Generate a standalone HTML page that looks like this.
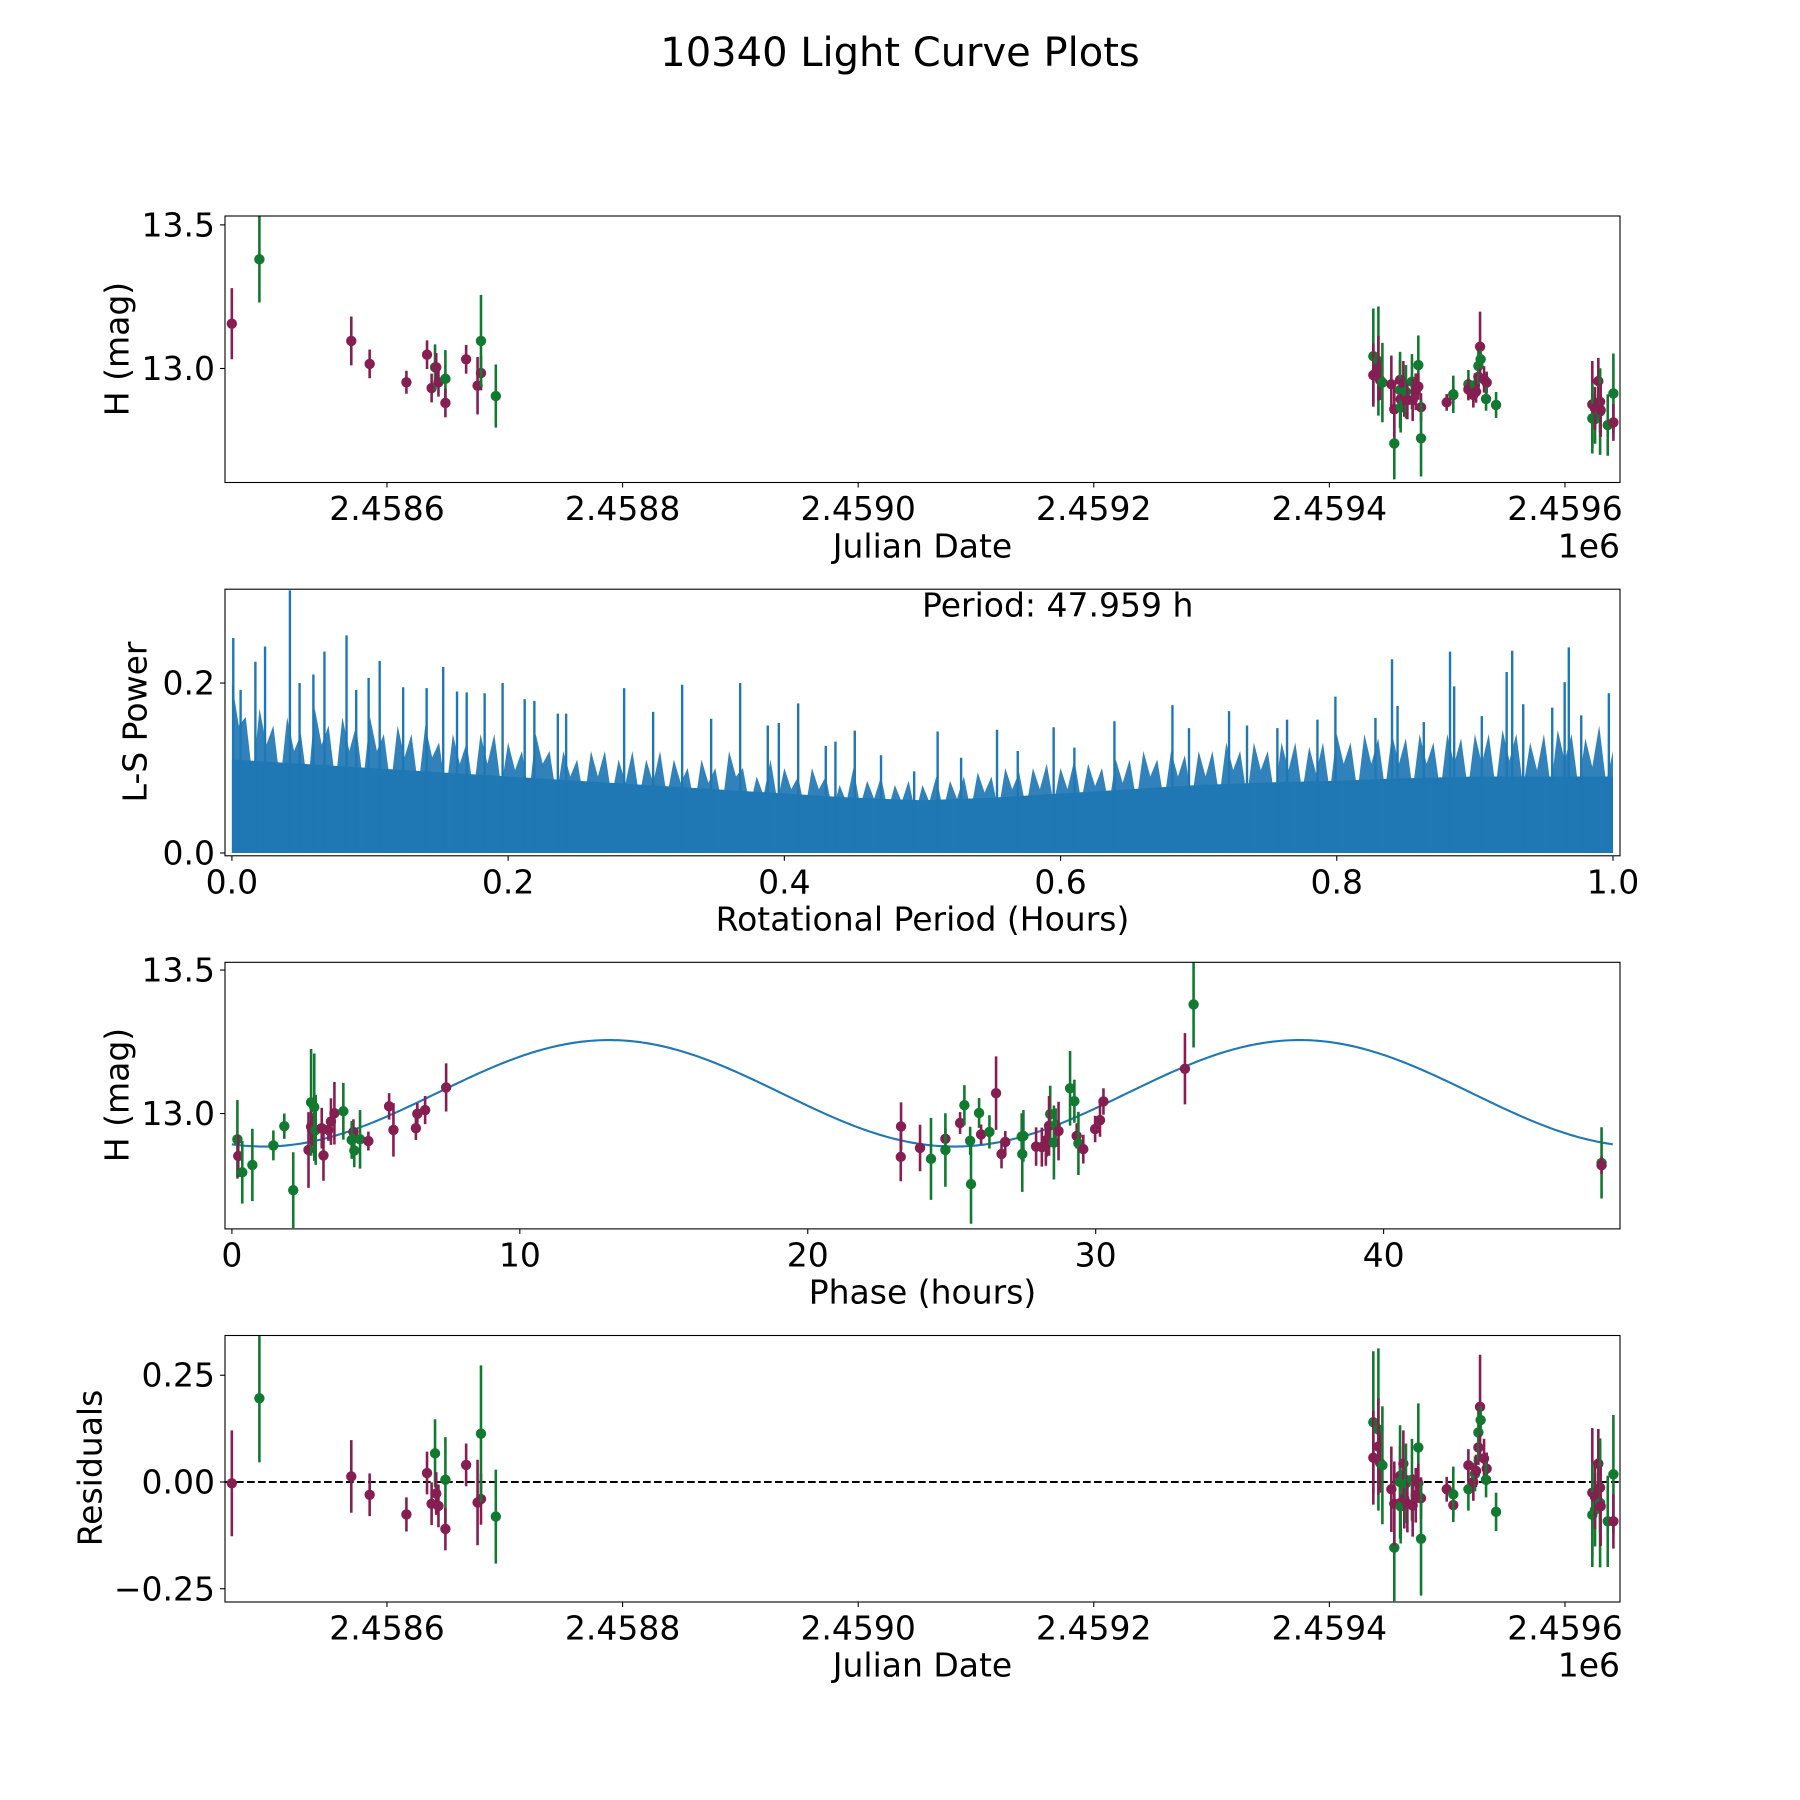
<!DOCTYPE html>
<html><head><meta charset="utf-8"><title>10340 Light Curve Plots</title>
<style>
html,body{margin:0;padding:0;background:#fff;}
svg{display:block;font-family:"DejaVu Sans","Liberation Sans",sans-serif;}
</style></head>
<body>
<svg id="fig" width="1800" height="1800" viewBox="0 0 1800 1800" xmlns="http://www.w3.org/2000/svg">
<rect x="0" y="0" width="1800" height="1800" fill="#fff"/>
<text x="900" y="53" font-size="40" text-anchor="middle" dominant-baseline="central">10340 Light Curve Plots</text>
</svg>
<script>
// ---------- data ----------
const obsJD = [2458468.3,2458491.7,2458569.7,2458585.3,2458616.5,2458634.0,2458637.9,2458640.8,2458641.8,2458643.7,2458649.6,2458649.6,2458667.2,2458676.9,2458679.8,2458679.8,2458692.4,
2459437.3,2459437.3,2459441.6,2459441.6,2459443.0,2459445.0,2459452.6,2459455.1,2459455.1,2459460.0,2459460.0,2459460.5,2459460.5,2459462.8,2459463.6,2459465.0,2459466.2,2459470.1,2459470.7,2459473.3,2459475.5,2459475.5,2459477.8,2459477.8,2459499.6,2459505.2,2459505.2,2459518.0,2459518.0,2459522.2,2459523.6,2459524.5,2459526.5,2459526.5,2459527.9,2459528.4,2459531.3,2459533.5,2459533.0,2459541.5,2459623.2,2459623.2,2459625.5,2459625.5,2459628.3,2459629.8,2459629.8,2459630.3,2459636.3,2459641.1,2459641.1];
const obsMag = [13.156,13.38,13.096,13.016,12.952,13.048,12.932,13.004,13.004,12.952,12.964,12.88,13.032,12.94,12.984,13.096,12.904,
13.043,12.977,13.026,13.001,12.960,12.951,12.945,12.739,12.858,12.960,12.925,12.893,12.864,12.948,12.902,12.919,12.890,12.954,12.890,12.919,13.012,12.937,12.865,12.757,12.882,12.908,12.910,12.945,12.927,12.908,12.942,12.919,12.971,13.009,13.076,13.032,12.962,12.951,12.894,12.873,12.875,12.826,12.824,12.861,12.956,12.884,12.850,12.855,12.803,12.913,12.812];
const obsErr = [.124,.15,.085,.05,.04,.05,.05,.08,.05,.05,.1,.05,.05,.1,.06,.16,.11,
.166,.110,.19,.113,.07,.138,.10,.125,.099,.07,.133,.073,.087,.078,.07,.093,.067,.096,.073,.064,.103,.046,.049,.133,.029,.029,.065,.05,.038,.044,.041,.038,.041,.064,.122,.032,.046,.038,.041,.045,.151,.122,.086,.075,.081,.107,.151,.093,.107,.139,.064];
const obsBand = "PGPPPPPGPPGPPPPGG"+"GPGPPGPGPPGPGPPGPGPPGPPGPPGGPPGPPGPGPPGGPGGPPPGPGGP";
const obsResid = [-0.003,0.196,0.013,-0.030,-0.076,0.021,-0.051,0.067,-0.027,-0.056,0.005,-0.11,0.040,-0.048,-0.04,0.113,-0.081,
0.140,0.057,0.123,0.083,0.045,0.039,-0.017,-0.154,-0.051,0.014,0.0,-0.049,-0.057,0.043,-0.039,-0.003,-0.051,0.005,-0.055,-0.031,0.081,-0.003,-0.038,-0.133,-0.017,-0.054,-0.029,-0.017,0.039,0,0.019,0.026,0.081,0.116,0.176,0.145,0.055,0.031,0.005,-0.07,-0.025,-0.077,-0.065,-0.035,0.043,-0.013,-0.049,-0.057,-0.092,0.018,-0.092];

const phaseHours = [0.19,0.22,0.36,0.71,1.44,1.82,2.13,2.66,2.75,2.75,2.79,2.86,2.91,3.12,3.18,3.35,3.44,3.56,3.87,4.22,4.16,4.25,4.45,4.74,5.46,5.61,6.39,6.44,6.71,7.44,
23.24,23.23,23.9,24.28,24.78,24.78,25.29,25.44,25.64,25.67,25.95,26.02,26.31,26.54,26.73,26.86,27.43,27.45,27.49,27.93,28.13,28.27,28.3,28.42,28.38,28.55,28.61,28.71,29.11,29.26,29.34,29.4,29.57,29.98,30.15,30.27,
33.1,33.4,47.57,47.57];
const phaseMag = [12.910,12.852,12.795,12.821,12.889,12.956,12.733,12.873,13.039,12.954,12.943,13.022,12.943,12.949,12.854,12.943,12.972,13.001,13.008,12.936,12.908,12.871,12.910,12.904,13.025,12.943,12.949,12.999,13.012,13.091,
12.955,12.849,12.880,12.842,12.912,12.873,12.967,13.029,12.905,12.754,13.002,12.927,12.936,13.071,12.859,12.901,12.920,12.859,12.922,12.885,12.883,12.891,12.908,12.998,12.957,12.899,12.960,12.939,13.088,13.043,12.922,12.896,12.876,12.946,12.977,13.042,
13.156,13.38,12.828,12.82];
const phaseErr = [.137,.074,.109,.126,.052,.044,.132,.132,.186,.058,.058,.187,.122,.071,.088,.038,.081,.109,.099,.044,.066,.058,.102,.033,.046,.093,.041,.037,.049,.084,
.084,.085,.081,.143,.038,.128,.038,.07,.049,.138,.052,.035,.058,.128,.05,.038,.081,.132,.09,.067,.068,.073,.058,.099,.104,.129,.058,.102,.13,.075,.044,.11,.05,.046,.058,.046,
.124,.15,.124,.03];
const phaseBand = "GPGGGGGPGPPGGPPPPPGPGGGPPPPPPP"+"PPPGPGPGGGGPGPPPGGGPPPPGPGGPGGPGPPPP"+"PGGP";

const modelMean = 13.0705;
const modelAmp = 0.1855;
const modelCycleHours = 23.98;
const modelPeakPhase = 13.1;
const foldPeriodHours = 47.959;

const lsGridPeriod = [0,0.05,0.1,0.15,0.2,0.25,0.3,0.35,0.4,0.45,0.5,0.55,0.6,0.65,0.7,0.75,0.8,0.85,0.9,0.95,1.0];
const lsFloorPower = [.11,.105,.1,.095,.09,.085,.08,.075,.07,.065,.062,.065,.07,.075,.08,.083,.085,.088,.09,.09,.09];
const lsEnvelopePower = [.2,.16,.17,.15,.16,.14,.17,.15,.16,.15,.16,.14,.15,.14,.15,.13,.14,.13,.14,.14,
.13,.12,.14,.12,.12,.11,.12,.12,.11,.12,.11,.12,.11,.1,.11,.1,.12,.1,.09,.11,
.1,.09,.1,.09,.08,.1,.085,.09,.08,.085,.08,.09,.085,.09,.095,.09,.1,.095,.1,.105,
.1,.11,.105,.1,.11,.11,.12,.11,.12,.115,.12,.12,.13,.12,.13,.12,.13,.13,.125,.13,
.14,.13,.14,.135,.14,.135,.14,.13,.14,.135,.14,.14,.145,.14,.13,.14,.145,.14,.135,.15,.12];
const lsPeakPeriod = [0.001,.0063,.017,.024,.042,.049,.059,.067,.083,.09,.099,.107,.124,.141,.153,.163,.17,.183,.196,.212,.219,.236,.242,.284,.305,.326,.347,.368,.388,.396,.41,.43,.437,.451,.47,.494,
.511,.528,.554,.569,.595,.61,.639,.681,.693,.722,.735,.757,.764,.786,.799,.828,.84,.844,.863,.882,.885,.905,.923,.927,.935,.956,.965,.968,.977,.997];
const lsPeakPower = [.253,.192,.225,.243,.309,.2,.21,.237,.256,.192,.206,.226,.195,.194,.219,.19,.189,.188,.2,.181,.179,.164,.164,.194,.166,.198,.158,.2,.15,.153,.176,.126,.131,.144,.115,.096,
.143,.112,.145,.12,.148,.124,.155,.174,.147,.167,.15,.147,.157,.157,.184,.159,.228,.173,.154,.237,.196,.161,.213,.238,.175,.171,.201,.242,.162,.188];

const jdTicks = [2458600,2458800,2459000,2459200,2459400,2459600];
const jdTickLabels = ["2.4586","2.4588","2.4590","2.4592","2.4594","2.4596"];
const magTicks = [13.0,13.5];
const magTickLabels = ["13.0","13.5"];
const lsXTicks = [0,0.2,0.4,0.6,0.8,1.0];
const lsXTickLabels = ["0.0","0.2","0.4","0.6","0.8","1.0"];
const lsYTicks = [0,0.2];
const lsYTickLabels = ["0.0","0.2"];
const phaseTicks = [0,10,20,30,40];
const phaseTickLabels = ["0","10","20","30","40"];
const residTicks = [0.25,0,-0.25];
const residTickLabels = ["0.25","0.00","\u22120.25"];

// ---------- helpers ----------
const NS = "http://www.w3.org/2000/svg";
const svg = document.getElementById("fig");
const PURPLE = "#861e52", GREEN = "#127a30", BLUE = "#1f77b4";
function el(tag, parent) { const e = document.createElementNS(NS, tag); parent.appendChild(e); return e; }
function scale(d0, d1, r0, r1) { return v => r0 + (v - d0) / (d1 - d0) * (r1 - r0); }

const L = 225, R = 1620;
function makePanel(name, top, bottom, xd, yd) {
  const g = el("g", svg);
  
  
  const cp = el("clipPath", g);
  cp.setAttribute("id", name + "-clip");
  const cr = el("rect", cp);
  cr.setAttribute("x", L); cr.setAttribute("y", top); cr.setAttribute("width", R - L); cr.setAttribute("height", bottom - top);
  const plot = el("g", g);
  plot.setAttribute("clip-path", "url(#" + name + "-clip)");
  
  
  return { g, plot, top, bottom, x: scale(xd[0], xd[1], L, R), y: scale(yd[0], yd[1], bottom, top) };
}
function frame(p, name) {
  const r = el("rect", p.g);
  r.setAttribute("x", L); r.setAttribute("y", p.top); r.setAttribute("width", R - L); r.setAttribute("height", p.bottom - p.top);
  r.setAttribute("fill", "none"); r.setAttribute("stroke", "#000"); r.setAttribute("stroke-width", "1.1");
  
  
}
function text(parent, x, y, s, size, anchor, rot) {
  const t = el("text", parent);
  t.setAttribute("x", x); t.setAttribute("y", y);
  t.setAttribute("font-size", size); t.setAttribute("text-anchor", anchor);
  t.setAttribute("dominant-baseline", "central");
  if (rot) t.setAttribute("transform", "rotate(-90 " + x + " " + y + ")");
  t.textContent = s;
  return t;
}
function xTicks(p, vals, labels, name) {
  vals.forEach((v, i) => {
    const X = p.x(v);
    const ln = el("line", p.g);
    ln.setAttribute("x1", X); ln.setAttribute("x2", X); ln.setAttribute("y1", p.bottom); ln.setAttribute("y2", p.bottom + 5);
    ln.setAttribute("stroke", "#000"); ln.setAttribute("stroke-width", "1.1");
    
    
    const t = text(p.g, X, p.bottom + 26, labels[i], 33, "middle");
    
    
  });
}
function yTicks(p, vals, labels, name) {
  vals.forEach((v, i) => {
    const Y = p.y(v);
    const ln = el("line", p.g);
    ln.setAttribute("x1", L - 5); ln.setAttribute("x2", L); ln.setAttribute("y1", Y); ln.setAttribute("y2", Y);
    ln.setAttribute("stroke", "#000"); ln.setAttribute("stroke-width", "1.1");
    
    
    const t = text(p.g, L - 10, Y, labels[i], 33, "end");
    
    
  });
}
function errPoints(p, xs, ys, es, bands, name) {
  xs.forEach((xv, i) => {
    const c = bands[i] === "G" ? GREEN : PURPLE;
    const X = p.x(xv);
    const ln = el("line", p.plot);
    ln.setAttribute("x1", X); ln.setAttribute("x2", X);
    ln.setAttribute("y1", p.y(ys[i] - es[i])); ln.setAttribute("y2", p.y(ys[i] + es[i]));
    ln.setAttribute("stroke", c); ln.setAttribute("stroke-width", "2.6");
    
    
    const ci = el("circle", p.plot);
    ci.setAttribute("cx", X); ci.setAttribute("cy", p.y(ys[i])); ci.setAttribute("r", "5.2"); ci.setAttribute("fill", c);
    
    
  });
}

// ---------- panel 1: light curve ----------
const jdDomain = [2458462.5, 2459646.7];
const p1 = makePanel("light-curve-panel", 216, 482.5, jdDomain, [12.603, 13.531]);
errPoints(p1, obsJD, obsMag, obsErr, obsBand, "light-curve");
frame(p1, "light-curve");
xTicks(p1, jdTicks, jdTickLabels, "light-curve");
yTicks(p1, magTicks, magTickLabels, "light-curve");
let t;
t = text(p1.g, 922.5, 546, "Julian Date", 33, "middle");


t = text(p1.g, 1620, 546, "1e6", 33, "end");


t = text(p1.g, 117, 349, "H (mag)", 33, "middle", true);



// ---------- panel 2: periodogram ----------
const p2 = makePanel("periodogram-panel", 589.2, 855.8, [-0.005, 1.00507], [-0.0033, 0.3104]);
(function () {
  const n = lsEnvelopePower.length;
  let d = "M" + p2.x(0) + " " + p2.y(0);
  lsEnvelopePower.forEach((v, i) => {
    const pr = i / (n - 1);
    const lo = i % 2 ? 0.55 : 0.75;
    d += " L" + p2.x(pr).toFixed(2) + " " + p2.y(v).toFixed(2);
    d += " L" + p2.x(pr + 0.005 > 1 ? 1 : pr + 0.005).toFixed(2) + " " + p2.y(v * lo).toFixed(2);
  });
  d += " L" + p2.x(1) + " " + p2.y(0) + " Z";
  const env = el("path", p2.plot);
  env.setAttribute("d", d); env.setAttribute("fill", BLUE); env.setAttribute("fill-opacity", "0.92");
  
  
  let f = "M" + p2.x(lsGridPeriod[0]) + " " + p2.y(0);
  lsGridPeriod.forEach((v, i) => { f += " L" + p2.x(v) + " " + p2.y(lsFloorPower[i]); });
  f += " L" + p2.x(lsGridPeriod[lsGridPeriod.length - 1]) + " " + p2.y(0) + " Z";
  const fl = el("path", p2.plot);
  fl.setAttribute("d", f); fl.setAttribute("fill", BLUE);
  
  
  lsPeakPeriod.forEach((v, i) => {
    const ln = el("line", p2.plot);
    ln.setAttribute("x1", p2.x(v)); ln.setAttribute("x2", p2.x(v));
    ln.setAttribute("y1", p2.y(0)); ln.setAttribute("y2", p2.y(lsPeakPower[i]));
    ln.setAttribute("stroke", BLUE); ln.setAttribute("stroke-width", "2.4");
    
    
  });
})();
frame(p2, "periodogram");
xTicks(p2, lsXTicks, lsXTickLabels, "periodogram");
yTicks(p2, lsYTicks, lsYTickLabels, "periodogram");
t = text(p2.g, 922.5, 919, "Rotational Period (Hours)", 33, "middle");


t = text(p2.g, 135, 722, "L-S Power", 33, "middle", true);


t = text(p2.g, 922, 605, "Period: " + foldPeriodHours.toFixed(3) + " h", 33, "start");



// ---------- panel 3: phase-folded ----------
const p3 = makePanel("phase-panel", 962.3, 1228.9, [-0.24, 48.21], [12.598, 13.527]);
(function () {
  let d = "";
  for (let k = 0; k <= 480; k++) {
    const ph = foldPeriodHours * k / 480;
    const m = modelMean + modelAmp * Math.cos(2 * Math.PI * (ph - modelPeakPhase) / modelCycleHours);
    d += (k ? " L" : "M") + p3.x(ph).toFixed(2) + " " + p3.y(m).toFixed(2);
  }
  const c = el("path", p3.plot);
  c.setAttribute("d", d); c.setAttribute("fill", "none"); c.setAttribute("stroke", BLUE); c.setAttribute("stroke-width", "2.1");
  
  
})();
errPoints(p3, phaseHours, phaseMag, phaseErr, phaseBand, "phase");
frame(p3, "phase");
xTicks(p3, phaseTicks, phaseTickLabels, "phase");
yTicks(p3, magTicks, magTickLabels, "phase");
t = text(p3.g, 922.5, 1292, "Phase (hours)", 33, "middle");


t = text(p3.g, 117, 1095, "H (mag)", 33, "middle", true);



// ---------- panel 4: residuals ----------
const p4 = makePanel("residuals-panel", 1335.5, 1602, jdDomain, [-0.281, 0.343]);
(function () {
  const z = el("line", p4.plot);
  z.setAttribute("x1", L); z.setAttribute("x2", R); z.setAttribute("y1", p4.y(0)); z.setAttribute("y2", p4.y(0));
  z.setAttribute("stroke", "#000"); z.setAttribute("stroke-width", "2.1"); z.setAttribute("stroke-dasharray", "7.7 3.3");
  
  
})();
errPoints(p4, obsJD, obsResid, obsErr, obsBand, "residual");
frame(p4, "residuals");
xTicks(p4, jdTicks, jdTickLabels, "residuals");
yTicks(p4, residTicks, residTickLabels, "residuals");
t = text(p4.g, 922.5, 1665, "Julian Date", 33, "middle");


t = text(p4.g, 1620, 1665, "1e6", 33, "end");


t = text(p4.g, 90, 1468, "Residuals", 33, "middle", true);


</script>
</body></html>
